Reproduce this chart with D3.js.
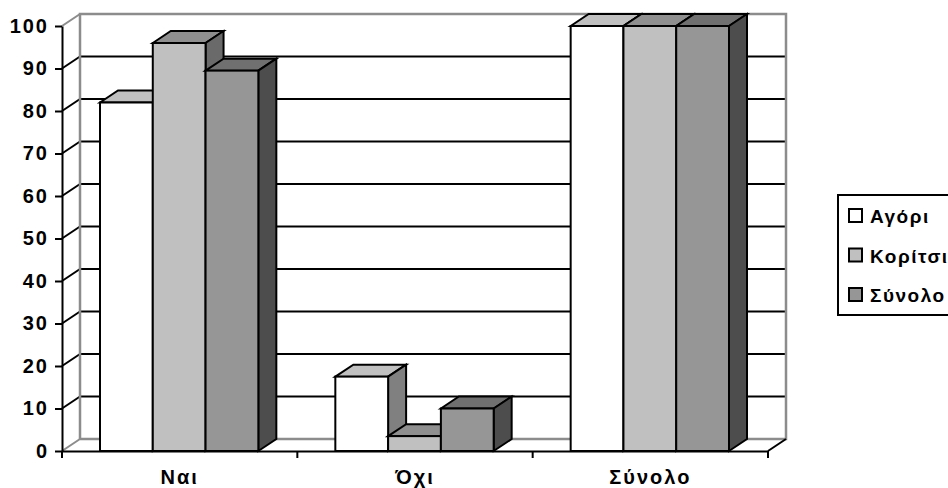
<!DOCTYPE html>
<html><head><meta charset="utf-8">
<script src="https://cdn.jsdelivr.net/npm/d3@7"></script>
<style>html,body{margin:0;padding:0;background:#fff;overflow:hidden}svg{display:block}
text{font-family:"Liberation Sans",Arial,sans-serif;font-weight:bold;font-size:20px;letter-spacing:2px;fill:#000}
.lg text{font-size:19px;letter-spacing:1.5px}</style>
</head><body><svg id="c" width="948" height="488"></svg>
<script>
const categories = ["Ναι", "Όχι", "Σύνολο"];
const seriesNames = ["Αγόρι", "Κορίτσι", "Σύνολο"];
const boys = [82, 17.5, 100];
const girls = [96, 3.5, 100];
const total = [89.5, 10, 100];
const yTicks = [0, 10, 20, 30, 40, 50, 60, 70, 80, 90, 100];
const frontColors = ["#ffffff", "#c0c0c0", "#969696"];
const topColors = ["#c0c0c0", "#8f8f8f", "#707070"];
const sideColors = ["#808080", "#6a6a6a", "#4d4d4d"];

const svg = d3.select("#c");
const dx = 18, dy = -12;
const x = d3.scaleBand().domain(categories).range([62, 768]).paddingInner(0).paddingOuter(0);
const y = d3.scaleLinear().domain([0, 100]).range([451, 26]);
const inner = d3.scaleBand().domain(seriesNames).range([38, x.bandwidth() - 39]);
const wallGray = "#8c8c8c";

// back wall
const wall = svg.append("g");
wall.selectAll("line.grid").data(yTicks.filter(t => t > 0 && t < 100)).join("line")
  .attr("x1", 80).attr("x2", x.range()[1] + dx)
  .attr("y1", d => y(d) + dy).attr("y2", d => y(d) + dy)
  .attr("stroke", "#000").attr("stroke-width", 2);
wall.selectAll("line.diag").data(yTicks).join("line")
  .attr("x1", 62).attr("x2", 62 + dx)
  .attr("y1", d => y(d)).attr("y2", d => y(d) + dy)
  .attr("stroke", d => (d === 0 || d === 100) ? wallGray : "#000").attr("stroke-width", 2);
wall.append("path")
  .attr("d", d3.line()([[80, y(0) + dy], [80, y(100) + dy], [786, y(100) + dy], [786, y(0) + dy], [80, y(0) + dy]]))
  .attr("fill", "none").attr("stroke", wallGray).attr("stroke-width", 2.5);
wall.append("line").attr("x1", 768).attr("y1", y(0)).attr("x2", 786).attr("y2", y(0) + dy)
  .attr("stroke", "#000").attr("stroke-width", 2);

// axes
const yAxis = d3.axisLeft(y).tickValues(yTicks).tickSize(7).tickPadding(6).tickSizeOuter(0);
const xAxis = d3.axisBottom(x).tickSize(0).tickPadding(18.5);
const gy = svg.append("g").attr("transform", "translate(62,0)").call(yAxis);
const gx = svg.append("g").attr("transform", "translate(0,451)").call(xAxis);
[gy, gx].forEach(g => {
  g.attr("font-size", null).attr("font-family", null);
  g.selectAll("line,path").attr("stroke", "#000").attr("stroke-width", 2);
});
gy.selectAll("text").attr("dy", "0.3em");
gx.selectAll(".tick").select("line").remove();
gx.selectAll("text").attr("dy", "0.71em");
svg.append("g").selectAll("line").data([0, 1, 2, 3]).join("line")
  .attr("x1", i => 62 + i * x.step()).attr("x2", i => 62 + i * x.step())
  .attr("y1", 451).attr("y2", 458).attr("stroke", "#000").attr("stroke-width", 2);

// bars
const seriesVals = [boys, girls, total];
const bars = svg.append("g").attr("stroke", "#000").attr("stroke-width", 2).attr("stroke-linejoin", "miter");
const line = d3.line();
categories.forEach((c, ci) => {
  seriesNames.forEach((s, si) => {
    const v = seriesVals[si][ci];
    const x0 = x(c) + inner(s), x1 = x0 + inner.bandwidth();
    const yt = y(v), yb = y(0);
    bars.append("path").attr("fill", topColors[si])
      .attr("d", line([[x0, yt], [x0 + dx, yt + dy], [x1 + dx, yt + dy], [x1, yt]]) + "Z");
    bars.append("path").attr("fill", sideColors[si])
      .attr("d", line([[x1, yt], [x1 + dx, yt + dy], [x1 + dx, yb + dy], [x1, yb]]) + "Z");
    bars.append("rect").attr("fill", frontColors[si])
      .attr("x", x0).attr("y", yt).attr("width", x1 - x0).attr("height", yb - yt);
  });
});

// legend
const lg = svg.append("g").attr("class", "lg");
lg.append("rect").attr("x", 838).attr("y", 195).attr("width", 130).attr("height", 120)
  .attr("fill", "#fff").attr("stroke", "#000").attr("stroke-width", 2);
const ly = d3.scalePoint().domain(seriesNames.map((d, i) => i)).range([216, 295]);
seriesNames.forEach((s, i) => {
  lg.append("rect").attr("x", 849).attr("y", ly(i) - 7).attr("width", 13).attr("height", 13)
    .attr("fill", frontColors[i]).attr("stroke", "#000").attr("stroke-width", 2);
  lg.append("text").attr("x", 870).attr("y", ly(i) + 7).text(s);
});
</script></body></html>
